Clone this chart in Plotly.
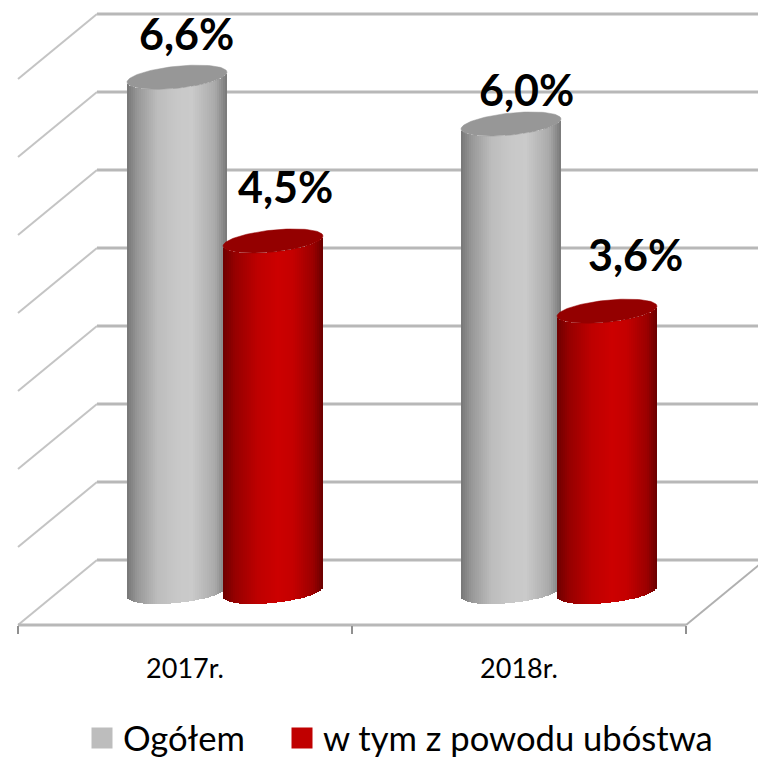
import numpy as np
import plotly.graph_objects as go

categories = ["2017r.", "2018r."]
ogolem = [6.6, 6.0]
ubostwo = [4.5, 3.6]
label_ogolem = ["6,6%", "6,0%"]
label_ubostwo = ["4,5%", "3,6%"]
grid_values = [0, 1, 2, 3, 4, 5, 6, 7]

FONT = "Lato"
PX, PY = 1 / 334, 1 / 78      # data units per pixel
W = H = 758
X0, Y0 = 18, 592              # pixel of category 0 / value 0 at bar depth

RADIUS, TILT, MINOR = 50, 5, 11


def stops_to_colors(t, stops):
    pos = [s[0] for s in stops]
    return [
        "rgb({:.0f},{:.0f},{:.0f})".format(*[np.interp(v, pos, [s[1][c] for s in stops]) for c in range(3)])
        for v in t
    ]


GRAY = [(0, (118, 118, 118)), (0.1, (150, 150, 150)), (0.3, (188, 188, 188)), (0.5, (200, 200, 200)),
        (0.65, (202, 202, 202)), (0.88, (170, 170, 170)), (1, (120, 120, 120))]
RED = [(0, (110, 0, 0)), (0.12, (150, 0, 0)), (0.35, (190, 0, 0)), (0.55, (204, 0, 0)),
       (0.7, (196, 0, 0)), (0.9, (155, 0, 0)), (1, (105, 0, 0))]

STRIP = 2
u = np.arange(-RADIUS + STRIP / 2, RADIUS, STRIP)
front = (-TILT * u / RADIUS + MINOR * np.sqrt(np.clip(1 - (u / RADIUS) ** 2, 0, 1))) * PY


def cylinder_trace(values, shift, stops):
    xs, ys, bases, cols = [], [], [], []
    c = stops_to_colors((u + RADIUS) / (2 * RADIUS), stops)
    for i, v in enumerate(values):
        cx = i + 0.5 + (40 + shift) * PX
        xs += list(cx + u * PX)
        ys += [v] * len(u)
        bases += list(-front)
        cols += c
    return go.Bar(x=xs, y=ys, base=bases, width=(STRIP + 0.6) * PX,
                  marker=dict(color=cols, line_width=0), showlegend=False, hoverinfo="skip")


def cap_trace(values, shift, color):
    t = np.linspace(0, 2 * np.pi, 121)
    xs, ys = [], []
    for i, v in enumerate(values):
        cx = i + 0.5 + (40 + shift) * PX
        xs += list(cx + RADIUS * np.cos(t) * PX) + [None]
        ys += list(v - (-TILT * np.cos(t) + MINOR * np.sin(t)) * PY) + [None]
    return go.Scatter(x=xs, y=ys, mode="lines", fill="toself", fillcolor=color,
                      line=dict(color=color, width=0.5), showlegend=False, hoverinfo="skip")


def legend_trace(name, color, legend):
    return go.Scatter(x=[None], y=[None], mode="markers", name=name, legend=legend,
                      marker=dict(symbol="square", size=16, color=color, line=dict(color=color, width=5)))


fig = go.Figure()
fig.add_trace(cylinder_trace(ogolem, -48, GRAY))
fig.add_trace(cylinder_trace(ubostwo, 48, RED))
fig.add_trace(cap_trace(ogolem, -48, "#979797"))
fig.add_trace(cap_trace(ubostwo, 48, "#940000"))
fig.add_trace(legend_trace("Ogółem", "#bdbdbd", "legend"))
fig.add_trace(legend_trace("w tym z powodu ubóstwa", "#c00000", "legend2"))

# oblique walls and floor
DX, FRONT, BACK = 79 * PX, -33 * PY, 32 * PY
shapes = []
for g in grid_values:
    shapes.append(dict(type="line", xref="x", yref="y", layer="below",
                       x0=DX, x1=740 * PX, y0=g + BACK, y1=g + BACK,
                       line=dict(color="#b8b8b8", width=3)))
    shapes.append(dict(type="line", xref="x", yref="y", layer="below",
                       x0=0, x1=DX, y0=g + FRONT, y1=g + BACK,
                       line=dict(color="#c4c4c4", width=2)))
shapes.append(dict(type="line", xref="x", yref="y", layer="below",
                   x0=2, x1=2 + DX, y0=FRONT, y1=BACK, line=dict(color="#b0b0b0", width=2)))
shapes.append(dict(type="line", xref="x", yref="y", layer="below",
                   x0=0, x1=2, y0=FRONT, y1=FRONT, line=dict(color="#b8b8b8", width=3)))

annotations = []
offsets_o = [(9, 44), (15, 35)]
offsets_u = [(12, 55), (28, 57)]
for values, labels, shift, offs in [(ogolem, label_ogolem, -48, offsets_o), (ubostwo, label_ubostwo, 48, offsets_u)]:
    for i, (v, lab) in enumerate(zip(values, labels)):
        annotations.append(dict(x=i + 0.5 + (40 + shift) * PX, y=v, text=lab, showarrow=False,
                                xshift=offs[i][0], yshift=offs[i][1], xanchor="center", yanchor="middle",
                                font=dict(family=FONT, size=43, color="black", weight="bold")))

legend_common = dict(orientation="h", yanchor="middle", y=(H - 738) / H, xanchor="left", itemwidth=32,
                     font=dict(family=FONT, size=34.6, color="black"), bgcolor="rgba(0,0,0,0)")

fig.update_layout(
    width=W, height=H, margin=dict(l=0, r=0, t=0, b=0, autoexpand=False),
    paper_bgcolor="white", plot_bgcolor="white",
    barmode="overlay", bargap=0,
    shapes=shapes, annotations=annotations,
    font=dict(family=FONT, color="black"),
    xaxis=dict(range=[-X0 * PX, (W - X0) * PX], domain=[0, 1], anchor="free",
               position=(H - 625) / H, showgrid=False, zeroline=False, showline=False,
               tickmode="array", tickvals=[0.5, 1.5], ticktext=categories,
               ticks="outside", ticklen=20, tickcolor="rgba(0,0,0,0)",
               tickfont=dict(family=FONT, size=27, color="black"),
               minor=dict(tickmode="array", tickvals=[0, 1, 2], ticks="outside", ticklen=8,
                          tickcolor="#909090", tickwidth=2, showgrid=False)),
    yaxis=dict(range=[(Y0 - H) * PY, Y0 * PY], domain=[0, 1], visible=False),
    legend=dict(x=81 / W, **legend_common),
    legend2=dict(x=281 / W, **legend_common),
)
fig.write_html("out.html", post_script="document.body.style.margin='0';",
               config={"displayModeBar": False})
